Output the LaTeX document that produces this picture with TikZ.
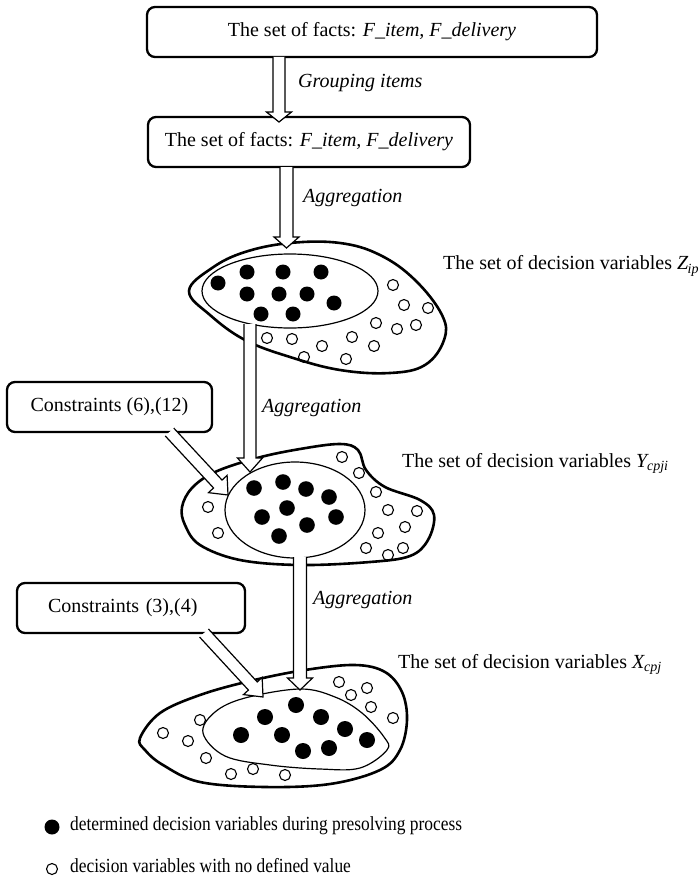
\documentclass[tikz,border=0pt]{standalone}
\usepackage{fontspec}
\usepackage{graphicx}
\setmainfont{Liberation Serif}
\usetikzlibrary{calc}

% block arrow: #1 name, #2 start, #3 tip, #4 head length, #5 shaft half width, #6 head half width
\newcommand{\hollowarrow}[6]{%
  \coordinate (#1-h) at ($(#3)!#4!(#2)$);
  \path[hollow] ($(#2)!#5!90:(#3)$) -- ($(#1-h)!#5!90:(#3)$) -- ($(#1-h)!#6!90:(#3)$)
    -- (#3) -- ($(#1-h)!#6!-90:(#3)$) -- ($(#1-h)!#5!-90:(#3)$) -- ($(#2)!#5!-90:(#3)$);
}

\begin{document}
\begin{tikzpicture}[x=1pt,y=-1pt,
  txt/.style={font=\fontsize{20}{24}\selectfont},
  box/.style={txt, draw, line width=2.3pt, rounded corners=8pt, minimum height=50pt, inner sep=0pt},
  label/.style={txt, inner sep=0pt, anchor=west},
  hollow/.style={draw, fill=white, line width=1.2pt, line join=miter},
  blob/.style={line width=2.6pt},
  core/.style={line width=1.2pt},
  fdot/.style={fill=black},
  edot/.style={draw, line width=1.1pt}
]
\useasboundingbox (0,0) rectangle (700,880);

% fact boxes
\node[box, minimum width=450pt] (facts1) at (372,32) {The set of facts: \textit{F\_item, F\_delivery}};
\node[box, minimum width=322pt] (facts2) at (309,142) {The set of facts: \textit{F\_item, F\_delivery}};

% constraint boxes
\node[box, minimum width=205pt] (cons1) at (109.5,407) {Constraints (6),(12)};
\node[box, minimum width=228pt, text width=166pt, align=left, inner xsep=31pt] (cons2) at (131,608) {Constraints (3),(4)};

% set Z_ip
\draw[blob] plot[smooth cycle, tension=0.65] coordinates {
  (189,291) (212,268) (245,252) (290,243) (340,243) (380,255) (415,280) (442,315)
  (444,340) (425,365) (390,373) (340,370) (290,357) (245,340) (210,315)};
\draw[core] (290,291) ellipse [x radius=88pt, y radius=37pt];
\foreach \x/\y in {218/283, 247/272, 283/272, 321/272, 247/294, 279/294, 307/294, 334/303, 261/314, 293/314}
  \fill[fdot] (\x,\y) circle [radius=7.5pt];
\foreach \x/\y in {393/285, 404/305, 428/308, 376/323, 397/329, 416/325, 267/338, 292/339, 322/346, 352/337, 374/346, 304/357, 346/359}
  \draw[edot] (\x,\y) circle [radius=5.5pt];

% set Y_cpji
\draw[blob] plot[smooth cycle, tension=0.6] coordinates {
  (182,507) (192,488) (215,472) (257,458) (300,449) (340,444) (358,450) (366,470)
  (385,487) (420,500) (434,515) (428,540) (410,556) (370,562) (300,565) (240,560)
  (200,545) (185,525)};
\draw[core] (295,510) ellipse [x radius=70pt, y radius=48pt];
\foreach \x/\y in {254/488, 283/482, 306/489, 329/497, 287/508, 262/517, 336/517, 307/525, 279/536}
  \fill[fdot] (\x,\y) circle [radius=7.8pt];
\foreach \x/\y in {342/457, 359/473, 376/492, 388/510, 417/511, 405/527, 378/533, 366/548, 388/555, 403/548, 208/507, 218/533}
  \draw[edot] (\x,\y) circle [radius=5.5pt];

% set X_cpj
\draw[blob] plot[smooth cycle, tension=0.6] coordinates {
  (140,738) (160,713) (200,695) (250,681) (305,670) (355,665) (385,672) (402,692)
  (407,720) (400,750) (380,770) (330,784) (265,787) (200,782) (163,765) (145,750)};
\draw[core] plot[smooth cycle, tension=0.6] coordinates {
  (203,733) (215,712) (245,698) (300,689) (335,697) (362,713) (384,737) (387,750)
  (360,768) (320,769) (270,765) (225,756)};
\foreach \x/\y in {296/705, 265/717, 321/717, 241/735, 282/735, 345/729, 367/740, 303/751, 329/748}
  \fill[fdot] (\x,\y) circle [radius=8pt];
\foreach \x/\y in {339/682, 367/688, 351/695, 371/707, 393/718, 200/720, 163/733, 188/741, 206/758, 231/774, 253/769, 285/775}
  \draw[edot] (\x,\y) circle [radius=5.5pt];

% arrow end points
\coordinate (g-s) at (279,57);    \coordinate (g-t) at (279,122);
\coordinate (a1-s) at (286.5,167); \coordinate (a1-t) at (286.5,248);
\coordinate (a2-s) at (250,324);   \coordinate (a2-t) at (250,472);
\coordinate (a3-s) at (300,557);   \coordinate (a3-t) at (300,690);
\coordinate (c1-s) at (169.5,432); \coordinate (c1-t) at (228,495);
\coordinate (c2-s) at (204,633);   \coordinate (c2-t) at (263,697);

% block arrows
\hollowarrow{g}{g-s}{g-t}{10pt}{6pt}{12.5pt}
\hollowarrow{a1}{a1-s}{a1-t}{11pt}{6.5pt}{12.5pt}
\hollowarrow{a2}{a2-s}{a2-t}{14pt}{6pt}{12.5pt}
\hollowarrow{a3}{a3-s}{a3-t}{12pt}{6.5pt}{12.5pt}
\hollowarrow{c1}{c1-s}{c1-t}{15pt}{5.8pt}{12.7pt}
\hollowarrow{c2}{c2-s}{c2-t}{15pt}{6pt}{12.7pt}

% arrow labels
\node[label] (lg) at (298,83) {\textit{Grouping items}};
\node[label] (l1) at (303,198) {\textit{Aggregation}};
\node[label] (l2) at (262,408) {\textit{Aggregation}};
\node[label] (l3) at (313,600) {\textit{Aggregation}};

% set names
\node[label] (zlab) at (443,266) {The set of decision variables \textit{Z\kern-0.5pt\textsubscript{ip}}};
\node[label] (ylab) at (402,463) {The set of decision variables \textit{Y\textsubscript{cpji}}};
\node[label] (xlab) at (398,664) {The set of decision variables \textit{X\textsubscript{cpj}}};

% legend
\fill[fdot] (52,827) circle [radius=7.5pt];
\draw[edot] (52,869) circle [radius=5.5pt];
\node[label] (leg1) at (70,826) {\scalebox{0.87}[1]{determined decision variables during presolving process}};
\node[label] (leg2) at (70,866) {\scalebox{0.87}[1]{decision variables with no defined value}};
\end{tikzpicture}
\end{document}
